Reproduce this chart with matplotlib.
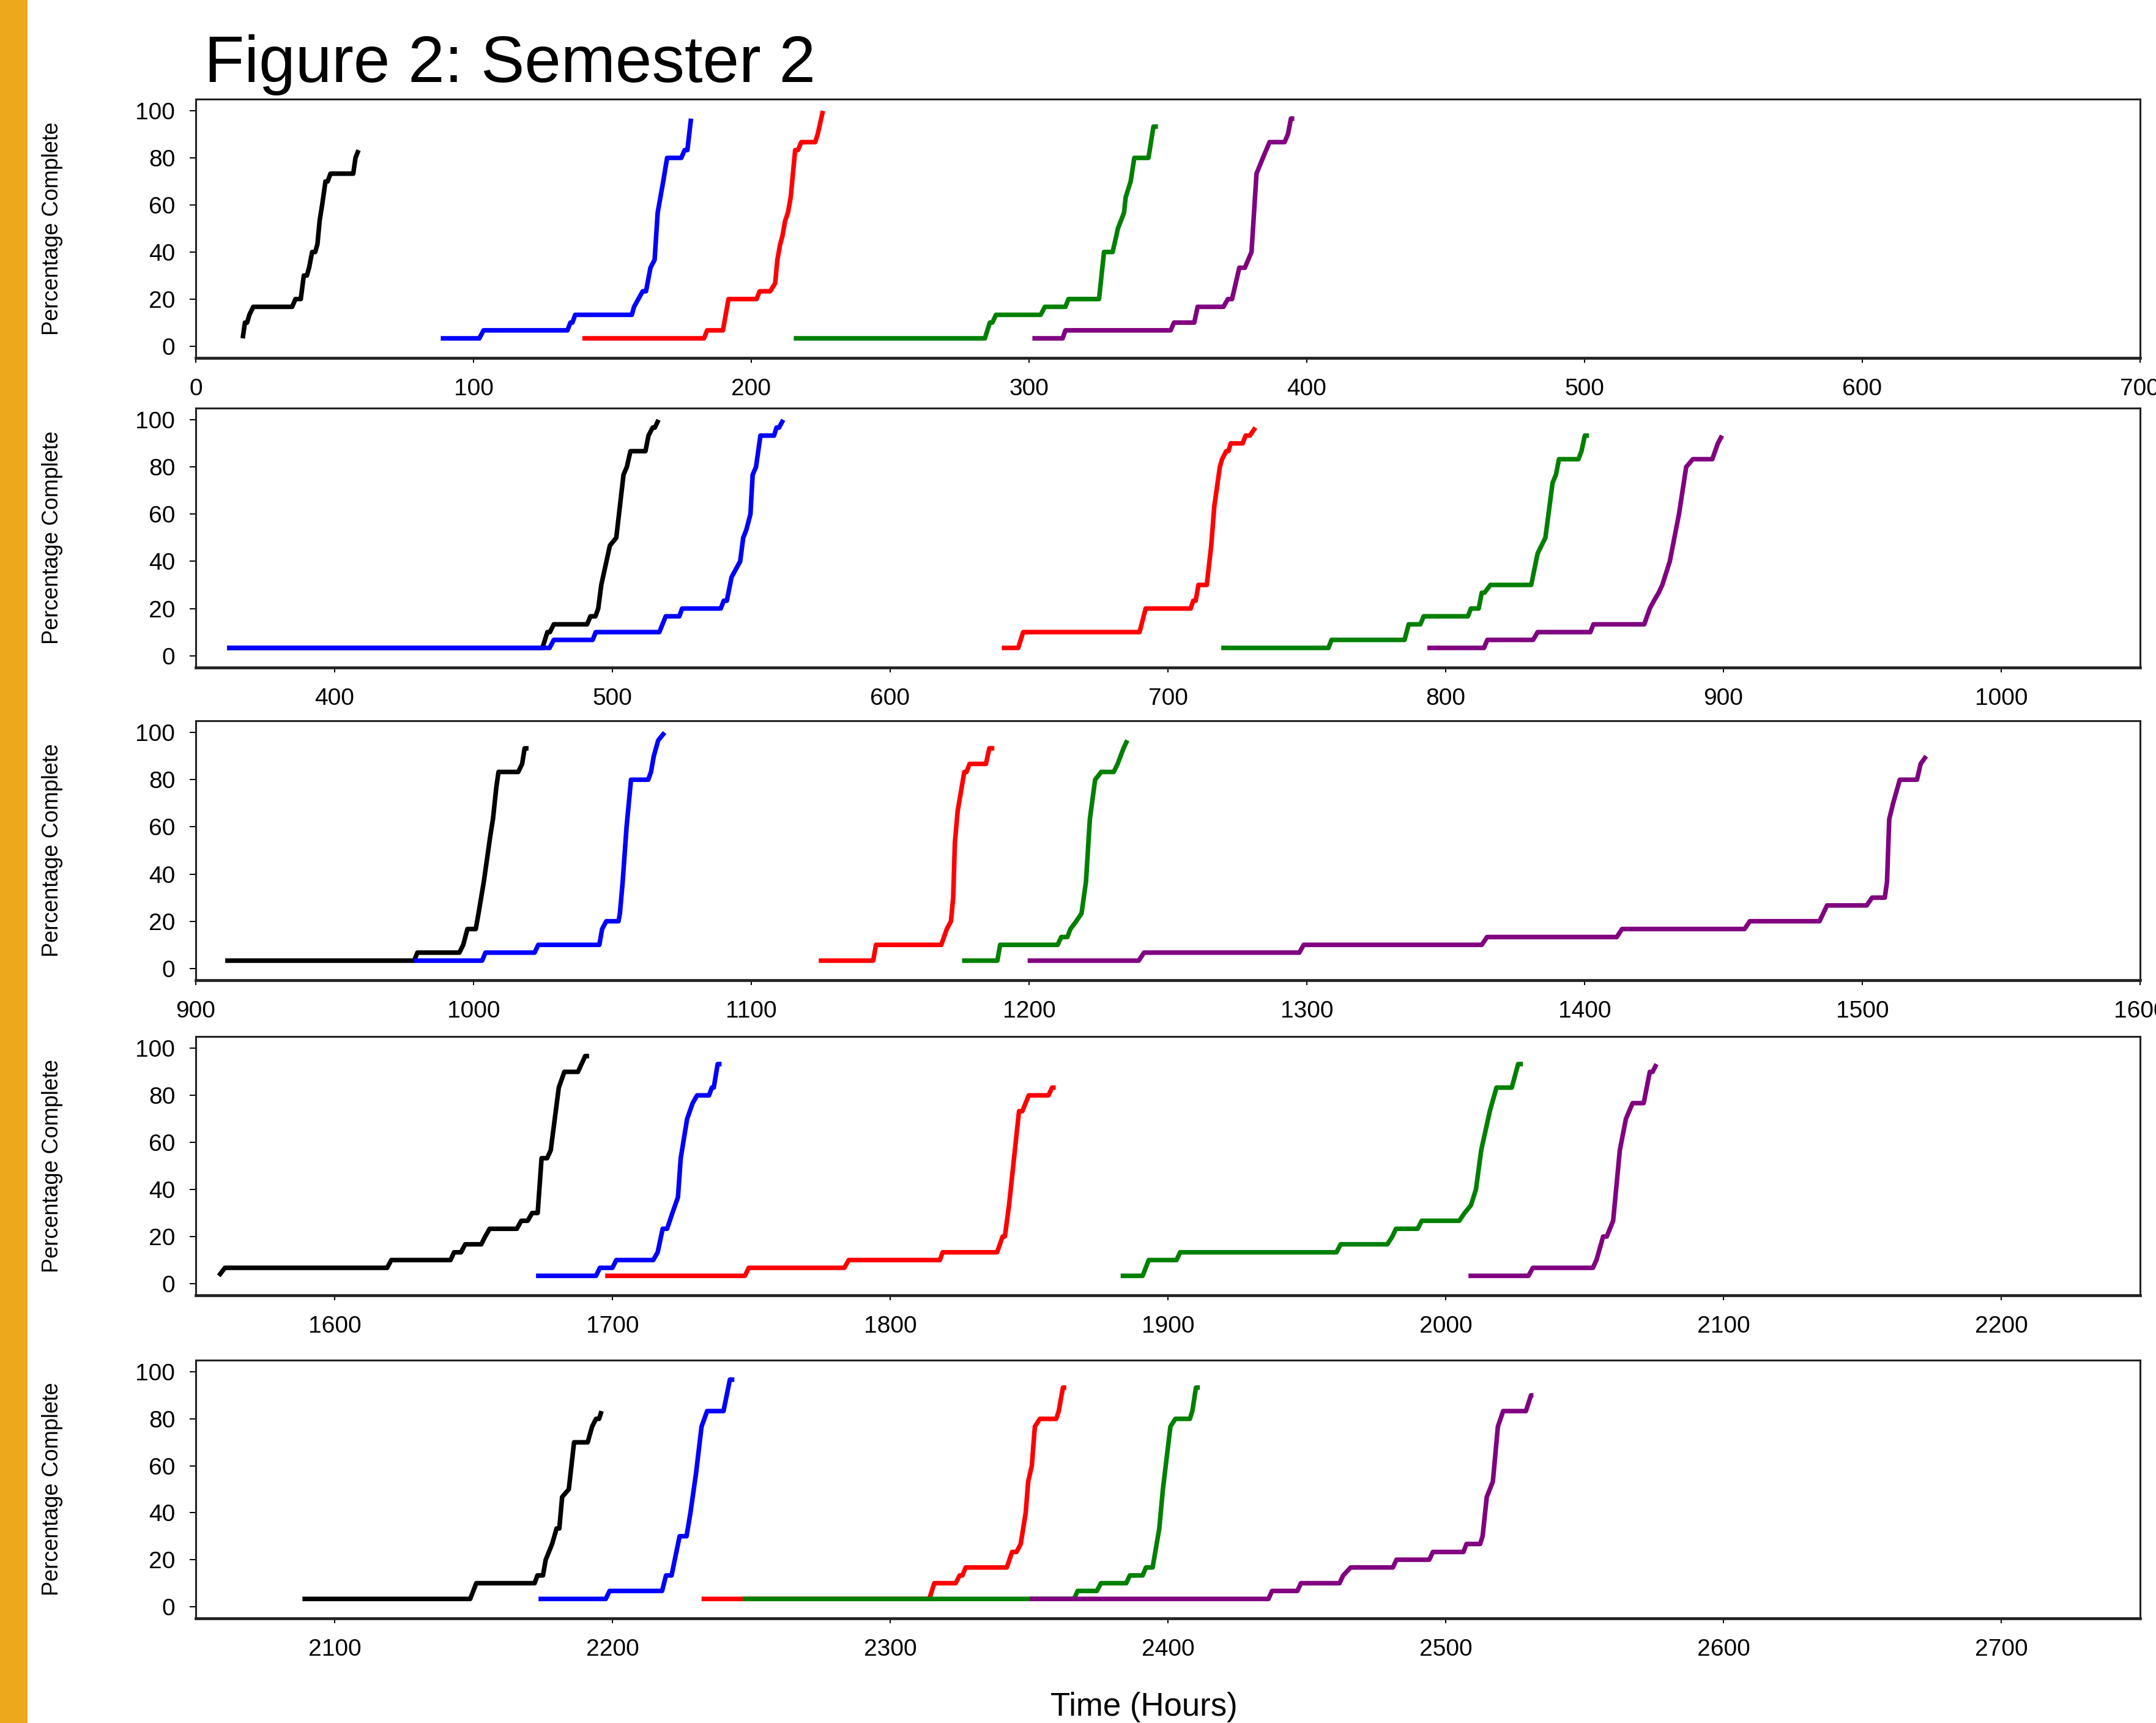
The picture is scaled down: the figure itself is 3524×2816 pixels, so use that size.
import matplotlib
matplotlib.use("Agg")
import matplotlib.pyplot as plt
from matplotlib.patches import Rectangle

plt.rcParams['font.family'] = ['Liberation Sans', 'DejaVu Sans']

# ---- data: time (hours) / percentage complete, one pair per student ----
# panel 1
p1_black_t = [16.9, 17.7, 18.5, 19.3, 20.7, 34.7, 35.9, 37.8, 38.9, 40.0, 40.8, 41.9, 43.0, 43.8, 44.6, 45.5, 46.7, 47.5, 48.5, 56.7, 57.5, 58.6]
p1_black_y = [3.3, 10, 10, 13.3, 16.7, 16.7, 20, 20, 30, 30, 33.3, 40, 40, 43.3, 53.3, 60, 70, 70, 73.3, 73.3, 80, 83.3]
p1_blue_t = [88.2, 102.1, 103.6, 133.8, 134.9, 135.6, 136.6, 157.0, 157.8, 160.9, 162.1, 163.7, 165.2, 166.3, 168.3, 169.7, 174.8, 176.0, 177.0, 178.3]
p1_blue_y = [3.3, 3.3, 6.7, 6.7, 10, 10, 13.3, 13.3, 16.7, 23.3, 23.3, 33.3, 36.7, 56.7, 70, 80, 80, 83.3, 83.3, 96.7]
p1_red_t = [139.2, 183.0, 184.1, 189.8, 191.8, 201.9, 203.0, 206.8, 208.6, 209.4, 210.4, 211.2, 212.2, 213.2, 214.2, 215.8, 216.8, 218.0, 223.0, 223.9, 225.8]
p1_red_y = [3.3, 3.3, 6.7, 6.7, 20, 20, 23.3, 23.3, 26.7, 36.7, 43.3, 46.7, 53.3, 56.7, 63.3, 83.3, 83.3, 86.7, 86.7, 90, 100]
p1_green_t = [215.3, 284.1, 285.9, 286.8, 288.1, 304.2, 305.7, 313.1, 314.2, 325.2, 327.0, 330.1, 331.4, 332.0, 334.2, 334.8, 336.6, 337.9, 343.0, 344.8, 346.4]
p1_green_y = [3.3, 3.3, 10, 10, 13.3, 13.3, 16.7, 16.7, 20, 20, 40, 40, 46.7, 50, 56.7, 63.3, 70, 80, 80, 93.3, 93.3]
p1_purple_t = [301.2, 312.1, 313.1, 351.0, 352.2, 359.5, 360.7, 370.0, 371.6, 373.1, 375.7, 377.7, 380.1, 381.9, 384.2, 386.6, 392.0, 393.2, 394.3, 395.5]
p1_purple_y = [3.3, 3.3, 6.7, 6.7, 10, 10, 16.7, 16.7, 20, 20, 33.3, 33.3, 40, 73.3, 80, 86.7, 86.7, 90, 96.7, 96.7]

# panel 2
p2_black_t = [361.3, 474.8, 476.6, 477.5, 478.9, 490.9, 492.1, 493.9, 494.9, 496.0, 499.1, 501.4, 504.0, 505.2, 506.5, 511.9, 513.0, 514.5, 515.3, 516.6]
p2_black_y = [3.3, 3.3, 10, 10, 13.3, 13.3, 16.7, 16.7, 20, 30, 46.7, 50, 76.7, 80, 86.7, 86.7, 93.3, 96.7, 96.7, 100]
p2_blue_t = [361.3, 477.4, 478.9, 492.9, 494.0, 516.9, 519.2, 524.1, 525.1, 539.0, 540.1, 541.2, 542.9, 546.0, 547.1, 548.2, 549.7, 550.5, 551.7, 553.3, 558.2, 559.1, 560.0, 561.5]
p2_blue_y = [3.3, 3.3, 6.7, 6.7, 10, 10, 16.7, 16.7, 20, 20, 23.3, 23.3, 33.3, 40, 50, 53.3, 60, 76.7, 80, 93.3, 93.3, 96.7, 96.7, 100]
p2_red_t = [640.2, 646.1, 647.9, 689.8, 692.0, 708.2, 709.1, 710.0, 711.0, 714.0, 715.6, 716.7, 718.7, 719.5, 721.0, 721.8, 722.6, 726.9, 728.0, 729.5, 731.5]
p2_red_y = [3.3, 3.3, 10, 10, 20, 20, 23.3, 23.3, 30, 30, 46.7, 63.3, 80, 83.3, 86.7, 86.7, 90, 90, 93.3, 93.3, 96.7]
p2_green_t = [719.2, 757.8, 758.9, 785.2, 786.7, 790.9, 792.1, 808.0, 809.1, 811.9, 813.0, 814.0, 816.1, 830.8, 833.1, 835.9, 838.5, 839.7, 840.8, 847.8, 848.9, 850.1, 851.6]
p2_green_y = [3.3, 3.3, 6.7, 6.7, 13.3, 13.3, 16.7, 16.7, 20, 20, 26.7, 26.7, 30, 30, 43.3, 50, 73.3, 76.7, 83.3, 83.3, 86.7, 93.3, 93.3]
p2_purple_t = [793.4, 813.8, 815.0, 831.5, 833.1, 852.1, 853.2, 871.5, 873.5, 875.0, 876.7, 878.0, 880.7, 884.0, 886.6, 889.0, 896.0, 898.0, 899.5]
p2_purple_y = [3.3, 3.3, 6.7, 6.7, 10, 10, 13.3, 13.3, 20, 23.3, 26.7, 30, 40, 60, 80, 83.3, 83.3, 90, 93.3]

# panel 3
p3_black_t = [910.6, 978.6, 979.8, 994.9, 996.3, 997.8, 1000.8, 1001.8, 1003.7, 1006.1, 1007.0, 1008.2, 1009.0, 1016.1, 1017.5, 1018.4, 1019.8]
p3_black_y = [3.3, 3.3, 6.7, 6.7, 10, 16.7, 16.7, 23.3, 36.7, 56.7, 63.3, 76.7, 83.3, 83.3, 86.7, 93.3, 93.3]
p3_blue_t = [978.6, 1003.1, 1004.3, 1022.0, 1023.3, 1045.3, 1046.3, 1047.8, 1052.2, 1052.7, 1053.7, 1055.1, 1056.7, 1062.9, 1063.9, 1064.9, 1066.5, 1068.8]
p3_blue_y = [3.3, 3.3, 6.7, 6.7, 10, 10, 16.7, 20, 20, 23.3, 36.7, 60, 80, 80, 83.3, 90, 96.7, 100]
p3_red_t = [1124.3, 1143.9, 1144.9, 1168.4, 1170.4, 1171.9, 1172.7, 1173.3, 1174.3, 1176.7, 1177.5, 1178.6, 1184.5, 1185.7, 1187.5]
p3_red_y = [3.3, 3.3, 10, 10, 16.7, 20, 30, 53.3, 66.7, 83.3, 83.3, 86.7, 86.7, 93.3, 93.3]
p3_green_t = [1175.9, 1188.6, 1189.6, 1210.3, 1211.6, 1213.8, 1214.9, 1217.0, 1218.9, 1220.5, 1221.9, 1223.8, 1226.0, 1230.5, 1231.9, 1234.0, 1235.4]
p3_green_y = [3.3, 3.3, 10, 10, 13.3, 13.3, 16.7, 20, 23.3, 36.7, 63.3, 80, 83.3, 83.3, 86.7, 93.3, 96.7]
p3_purple_t = [1199.5, 1239.5, 1241.4, 1297.3, 1298.9, 1363.0, 1364.9, 1411.6, 1413.5, 1457.6, 1459.5, 1484.6, 1487.3, 1501.6, 1503.5, 1508.1, 1508.9, 1509.7, 1511.1, 1513.5, 1519.7, 1521.0, 1523.0]
p3_purple_y = [3.3, 3.3, 6.7, 6.7, 10, 10, 13.3, 13.3, 16.7, 16.7, 20, 20, 26.7, 26.7, 30, 30, 36.7, 63.3, 70, 80, 80, 86.7, 90]

# panel 4
p4_black_t = [1558.3, 1560.5, 1618.9, 1620.4, 1641.7, 1643.0, 1645.5, 1647.0, 1652.8, 1654.2, 1655.8, 1665.6, 1667.2, 1669.5, 1671.1, 1673.1, 1674.5, 1676.5, 1677.8, 1680.7, 1682.7, 1687.6, 1690.2, 1691.6]
p4_black_y = [3.3, 6.7, 6.7, 10, 10, 13.3, 13.3, 16.7, 16.7, 20, 23.3, 23.3, 26.7, 26.7, 30, 30, 53.3, 53.3, 56.7, 83.3, 90, 90, 96.7, 96.7]
p4_blue_t = [1672.5, 1694.1, 1695.5, 1700.0, 1701.4, 1714.7, 1716.3, 1718.1, 1719.7, 1721.6, 1723.6, 1724.6, 1726.9, 1728.9, 1730.5, 1734.8, 1735.8, 1736.5, 1737.9, 1739.3]
p4_blue_y = [3.3, 3.3, 6.7, 6.7, 10, 10, 13.3, 23.3, 23.3, 30, 36.7, 53.3, 70, 76.7, 80, 80, 83.3, 83.3, 93.3, 93.3]
p4_red_t = [1697.4, 1747.7, 1749.1, 1783.5, 1785.1, 1817.9, 1818.9, 1838.5, 1840.5, 1841.3, 1842.8, 1846.4, 1847.6, 1849.9, 1857.0, 1858.3, 1859.6]
p4_red_y = [3.3, 3.3, 6.7, 6.7, 10, 10, 13.3, 13.3, 20, 20, 33.3, 73.3, 73.3, 80, 80, 83.3, 83.3]
p4_green_t = [1883.0, 1890.9, 1893.1, 1903.1, 1904.4, 1960.7, 1962.2, 1979.0, 1980.8, 1982.1, 1989.9, 1991.4, 2004.9, 2006.8, 2009.1, 2010.9, 2012.8, 2015.9, 2018.3, 2023.8, 2026.1, 2027.8]
p4_green_y = [3.3, 3.3, 10, 10, 13.3, 13.3, 16.7, 16.7, 20, 23.3, 23.3, 26.7, 26.7, 30, 33.3, 40, 56.7, 73.3, 83.3, 83.3, 93.3, 93.3]
p4_purple_t = [2008.2, 2029.8, 2031.4, 2053.0, 2054.3, 2056.7, 2058.0, 2060.3, 2062.7, 2064.9, 2067.3, 2071.3, 2073.5, 2074.5, 2075.9]
p4_purple_y = [3.3, 3.3, 6.7, 6.7, 10, 20, 20, 26.7, 56.7, 70, 76.7, 76.7, 90, 90, 93.3]

# panel 5
p5_black_t = [2088.4, 2148.8, 2151.0, 2172.0, 2173.0, 2175.0, 2176.0, 2178.3, 2179.9, 2180.9, 2181.9, 2184.3, 2186.2, 2191.1, 2192.7, 2194.1, 2195.2, 2196.1]
p5_black_y = [3.3, 3.3, 10, 10, 13.3, 13.3, 20, 26.7, 33.3, 33.3, 46.7, 50, 70, 70, 76.7, 80, 80, 83.3]
p5_blue_t = [2173.4, 2197.6, 2199.0, 2217.9, 2219.3, 2221.3, 2224.2, 2226.7, 2228.1, 2230.1, 2232.1, 2234.1, 2240.0, 2242.3, 2243.9]
p5_blue_y = [3.3, 3.3, 6.7, 6.7, 13.3, 13.3, 30, 30, 40, 56.7, 76.7, 83.3, 83.3, 96.7, 96.7]
p5_red_t = [2232.1, 2314.1, 2315.9, 2323.6, 2325.0, 2326.0, 2327.2, 2342.0, 2343.9, 2345.5, 2347.0, 2348.8, 2349.7, 2351.0, 2352.1, 2353.9, 2359.8, 2360.7, 2362.2, 2363.4]
p5_red_y = [3.3, 3.3, 10, 10, 13.3, 13.3, 16.7, 16.7, 23.3, 23.3, 26.7, 40, 53.3, 60, 76.7, 80, 80, 83.3, 93.3, 93.3]
p5_green_t = [2246.9, 2366.2, 2367.5, 2374.4, 2375.9, 2385.0, 2386.3, 2390.9, 2392.1, 2394.5, 2396.9, 2398.2, 2400.9, 2402.7, 2407.9, 2408.8, 2410.1, 2411.5]
p5_green_y = [3.3, 3.3, 6.7, 6.7, 10, 10, 13.3, 13.3, 16.7, 16.7, 33.3, 50, 76.7, 80, 80, 83.3, 93.3, 93.3]
p5_purple_t = [2350.3, 2436.2, 2437.5, 2446.6, 2447.9, 2461.8, 2463.1, 2465.8, 2481.0, 2482.3, 2494.1, 2495.4, 2506.4, 2507.5, 2512.4, 2513.3, 2514.8, 2517.0, 2518.8, 2520.7, 2528.9, 2530.7, 2531.6]
p5_purple_y = [3.3, 3.3, 6.7, 6.7, 10, 10, 13.3, 16.7, 16.7, 20, 20, 23.3, 23.3, 26.7, 26.7, 30, 46.7, 53.3, 76.7, 83.3, 83.3, 90, 90]

colors = ['black', 'blue', 'red', 'green', 'purple']
xlims = [(0, 700), (350, 1050), (900, 1600), (1550, 2250), (2050, 2750)]
yticks = [0, 20, 40, 60, 80, 100]

panels = [
    [(p1_black_t, p1_black_y), (p1_blue_t, p1_blue_y), (p1_red_t, p1_red_y), (p1_green_t, p1_green_y), (p1_purple_t, p1_purple_y)],
    [(p2_black_t, p2_black_y), (p2_blue_t, p2_blue_y), (p2_red_t, p2_red_y), (p2_green_t, p2_green_y), (p2_purple_t, p2_purple_y)],
    [(p3_black_t, p3_black_y), (p3_blue_t, p3_blue_y), (p3_red_t, p3_red_y), (p3_green_t, p3_green_y), (p3_purple_t, p3_purple_y)],
    [(p4_black_t, p4_black_y), (p4_blue_t, p4_blue_y), (p4_red_t, p4_red_y), (p4_green_t, p4_green_y), (p4_purple_t, p4_purple_y)],
    [(p5_black_t, p5_black_y), (p5_blue_t, p5_blue_y), (p5_red_t, p5_red_y), (p5_green_t, p5_green_y), (p5_purple_t, p5_purple_y)],
]

# axes boxes (left, bottom, width, height) in figure fractions
boxes = [
    (0.0908, 0.7923, 0.9018, 0.1502),
    (0.0908, 0.6126, 0.9018, 0.1506),
    (0.0908, 0.4311, 0.9018, 0.1506),
    (0.0908, 0.2482, 0.9018, 0.1502),
    (0.0908, 0.0607, 0.9018, 0.1499),
]

fig = plt.figure(figsize=(17.62, 14.08), dpi=200)
fig.patch.set_facecolor('white')

# orange strip on the left
fig.patches.append(Rectangle((0, 0), 0.0128, 1, transform=fig.transFigure,
                             facecolor='#EDA81B', edgecolor='none'))

for i in range(len(panels)):
    ax = fig.add_axes(boxes[i])
    for j in range(len(panels[i])):
        t, y = panels[i][j]
        ax.plot(t, y, color=colors[j], lw=2.7, solid_capstyle='butt', solid_joinstyle='round')
    ax.set_xlim(xlims[i])
    ax.set_ylim(-5, 105)
    ax.set_yticks(yticks)
    first = xlims[i][0] if xlims[i][0] % 100 == 0 else xlims[i][0] + 50
    ax.set_xticks(range(first, xlims[i][1] + 1, 100))
    ax.tick_params(axis='y', length=3.6, width=0.7, pad=8.5, labelsize=14)
    ax.tick_params(axis='x', length=2.9, width=0.7, pad=9, labelsize=14)
    for s in ['top', 'right', 'left']:
        ax.spines[s].set_linewidth(1.1)
        ax.spines[s].set_color('#222222')
    ax.spines['bottom'].set_linewidth(1.7)
    ax.spines['bottom'].set_color('#222222')
    ax.set_ylabel('Percentage Complete', fontsize=13)
    ax.yaxis.set_label_coords(-0.0683, 0.5)

fig.text(0.0948, 0.9524, 'Figure 2: Semester 2', fontsize=38.5, va='baseline', ha='left')
fig.text(0.5306, 0.0042, 'Time (Hours)', fontsize=19, va='baseline', ha='center')

plt.savefig('out.png', dpi=200)
plt.close()
